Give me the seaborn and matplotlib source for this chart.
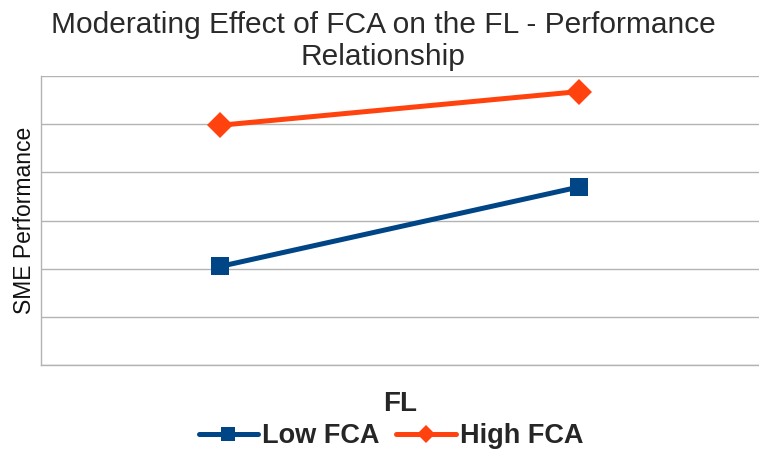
import matplotlib
matplotlib.use("Agg")
import matplotlib.pyplot as plt
import seaborn as sns
import pandas as pd

fl_levels = ["Low FL", "High FL"]
low_fca = [2.05, 3.7]
high_fca = [4.98, 5.68]

df = pd.DataFrame({
    "FL": fl_levels * 2,
    "SME Performance": low_fca + high_fca,
    "Group": ["Low FCA"] * 2 + ["High FCA"] * 2,
})

sns.set_style("white")
plt.rcParams["font.family"] = ["Liberation Sans", "DejaVu Sans"]

fig = plt.figure(figsize=(7.59, 4.53), dpi=100)
ax = fig.add_axes([0.054, 0.194, 0.946, 0.638])

colors = {"Low FCA": "#004586", "High FCA": "#ff420e"}
sns.lineplot(data=df, x="FL", y="SME Performance", hue="Group", style="Group",
             palette=colors, markers={"Low FCA": "s", "High FCA": "D"},
             dashes=False, linewidth=3.6, markersize=13.5, markeredgewidth=0,
             ax=ax, legend=False, zorder=3)

ax.set_xlim(-0.5, 1.5)
ax.set_ylim(0, 6)
ax.set_yticks(range(0, 7))
ax.set_yticklabels([])
ax.set_xticks([-0.5, 0.5, 1.5])
ax.set_xticklabels([])
ax.tick_params(axis="x", direction="out", length=5, color="#b3b3b3", width=1)
ax.tick_params(axis="y", length=0)
ax.grid(axis="y", color="#b3b3b3", linewidth=1)
ax.grid(axis="x", visible=False)
for side in ["top", "right"]:
    ax.spines[side].set_visible(False)
for side in ["left", "bottom"]:
    ax.spines[side].set_color("#b3b3b3")
    ax.spines[side].set_linewidth(1)

ax.set_xlabel("FL", fontsize=20, fontweight="bold", labelpad=10)
ax.set_ylabel("SME Performance", fontsize=16.5, labelpad=0, color="#111111")
fig.suptitle("Moderating Effect of FCA on the FL - Performance\nRelationship",
             fontsize=21.5, color="#2a2a2a", x=0.505, y=0.975, linespacing=1.15)

handles = [
    plt.Line2D([], [], color=colors["Low FCA"], marker="s", linewidth=3.6, markersize=10, markeredgewidth=0),
    plt.Line2D([], [], color=colors["High FCA"], marker="D", linewidth=3.6, markersize=9, markeredgewidth=0),
]
fig.legend(handles, ["Low FCA", "High FCA"], loc="lower center", ncol=2,
           bbox_to_anchor=(0.515, -0.045), frameon=False,
           prop={"weight": "bold", "size": 19.5}, handlelength=2.2, handletextpad=0.15,
           columnspacing=0.6)

fig.savefig("out.png", dpi=100)
